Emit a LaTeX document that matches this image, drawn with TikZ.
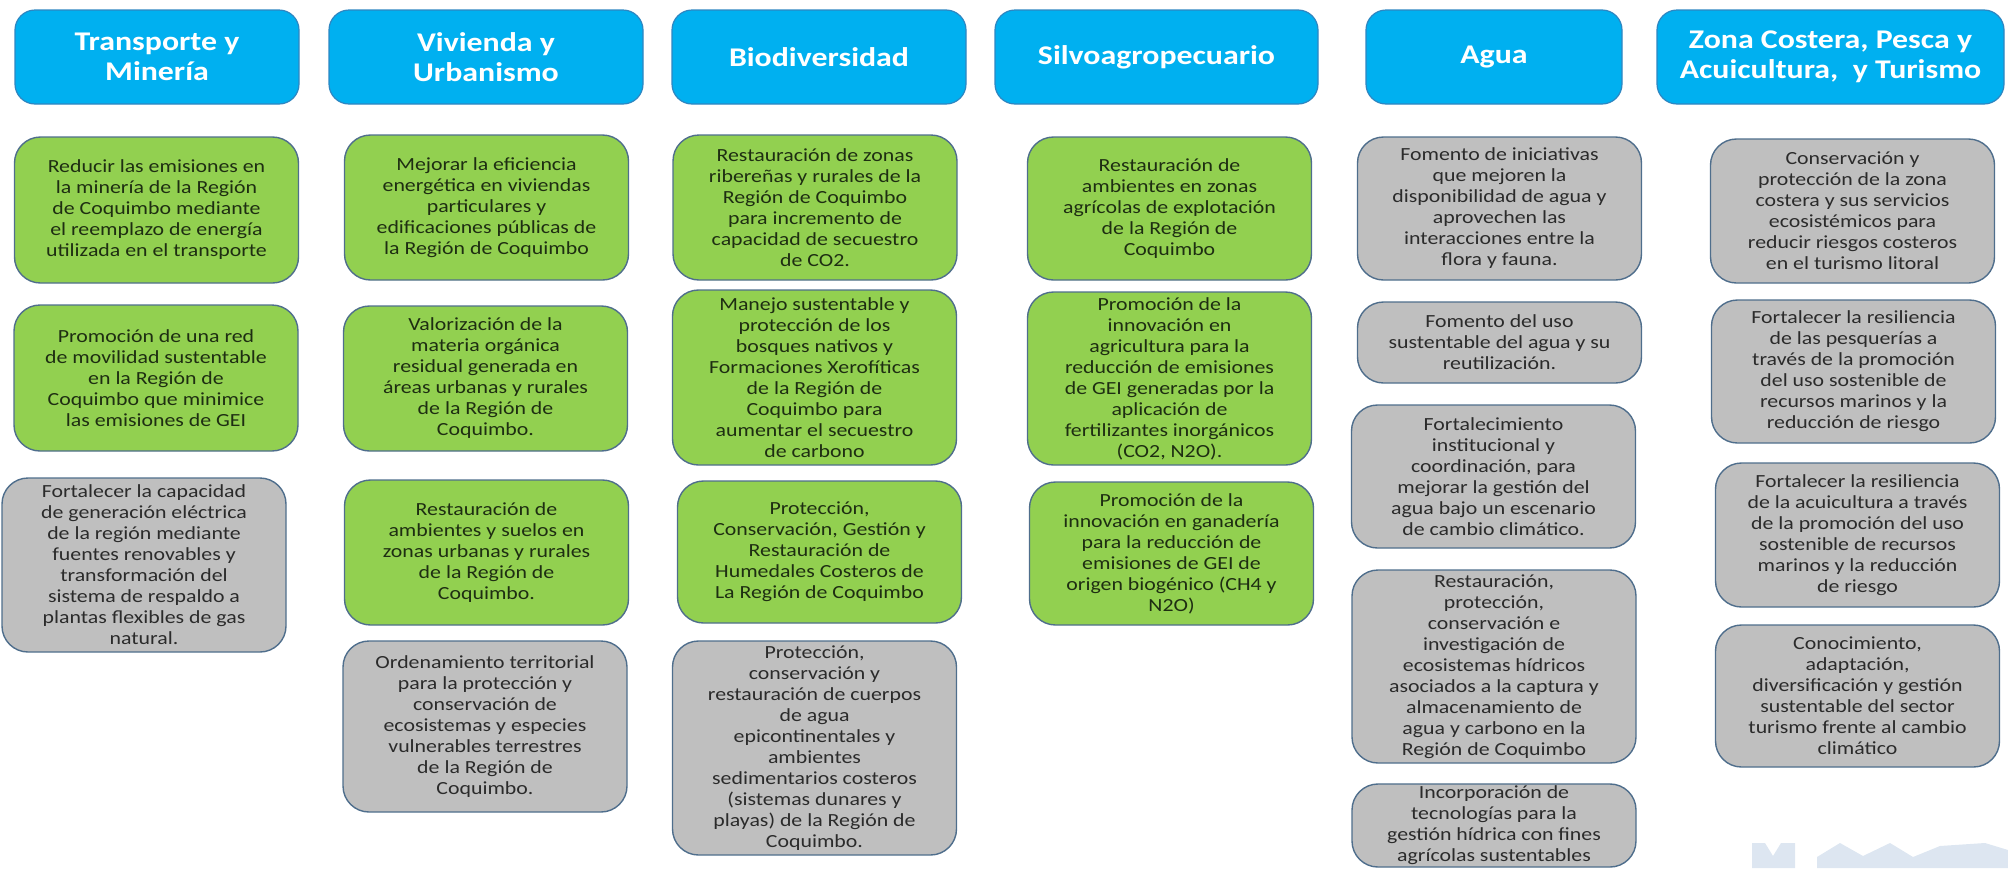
\documentclass[tikz,border=0pt]{standalone}
\usepackage{fontspec}
\setmainfont{Carlito}[FakeStretch=1.18]
\begin{document}
\begin{tikzpicture}[x=1pt,y=-1pt,
  hdr/.style={draw=hdrline,fill=hdrblue,line width=1.2pt,rounded corners=20pt,
    text=white,align=center,inner sep=2pt,font=\fontsize{27}{30}\selectfont\bfseries,
    minimum height=94pt},
  verde/.style={draw=boxline,fill=boxgreen,line width=1.4pt,rounded corners=26pt,
    text=greentext,align=center,inner sep=2pt,font=\fontsize{18.5}{21}\selectfont,
    minimum width=284pt},
  gris/.style={verde,fill=boxgray,text=graytext}]
\definecolor{hdrblue}{HTML}{00B0F0}
\definecolor{hdrline}{HTML}{2E86C1}
\definecolor{boxgreen}{HTML}{92D050}
\definecolor{boxgray}{HTML}{BFBFBF}
\definecolor{boxline}{HTML}{4F6E8C}
\definecolor{greentext}{HTML}{1E2E12}
\definecolor{graytext}{HTML}{2B2B2B}
\definecolor{wmark}{HTML}{DDE6F1}
\useasboundingbox (0,0) rectangle (2008,868);
% watermark, bottom right
\fill[wmark] (1752,868)--(1752,843)--(1765,843)--(1773,856)--(1781,843)--(1795,843)--(1795,868)--cycle;
\fill[wmark] (1817,868)--(1817,857)--(1840,843)--(1863,856)--(1890,843)--(1913,857)--(1940,846)--(1985,843)--(2008,850)--(2008,868)--cycle;
% headers
\node[hdr,minimum width=284pt] (hTra) at (157,57) {Transporte y\\Minería};
\node[hdr,minimum width=314pt] (hViv) at (486,57) {Vivienda y\\Urbanismo};
\node[hdr,minimum width=294pt] (hBio) at (819,57) {Biodiversidad};
\node[hdr,minimum width=323pt] (hSil) at (1156.5,57) {Silvoagropecuario};
\node[hdr,minimum width=256pt] (hAgu) at (1494,57) {Agua};
\node[hdr,minimum width=347pt] (hZon) at (1830.5,57) {Zona Costera, Pesca y\\Acuicultura,\ \ y Turismo};
% Transporte y Mineria
\node[verde,minimum height=146pt] (tra1) at (156.5,210) {Reducir las emisiones en\\la minería de la Región\\de Coquimbo mediante\\el reemplazo de energía\\utilizada en el transporte};
\node[verde,minimum height=146pt] (tra2) at (156,378) {Promoción de una red\\de movilidad sustentable\\en la Región de\\Coquimbo que minimice\\las emisiones de GEI};
\node[gris,minimum height=174pt] (tra3) at (144,565) {Fortalecer la capacidad\\de generación eléctrica\\de la región mediante\\fuentes renovables y\\transformación del\\sistema de respaldo a\\plantas flexibles de gas\\natural.};
% Vivienda y Urbanismo
\node[verde,minimum height=145pt] (viv1) at (486.5,207.5) {Mejorar la eficiencia\\energética en viviendas\\particulares y\\edificaciones públicas de\\la Región de Coquimbo};
\node[verde,minimum height=145pt] (viv2) at (485.5,378.5) {Valorización de la\\materia orgánica\\residual generada en\\áreas urbanas y rurales\\de la Región de\\Coquimbo.};
\node[verde,minimum height=145pt] (viv3) at (486.5,552.5) {Restauración de\\ambientes y suelos en\\zonas urbanas y rurales\\de la Región de\\Coquimbo.};
\node[gris,minimum height=171pt] (viv4) at (485,726.5) {Ordenamiento territorial\\para la protección y\\conservación de\\ecosistemas y especies\\vulnerables terrestres\\de la Región de\\Coquimbo.};
% Biodiversidad
\node[verde,minimum height=145pt] (bio1) at (815,207.5) {Restauración de zonas\\ribereñas y rurales de la\\Región de Coquimbo\\para incremento de\\capacidad de secuestro\\de CO2.};
\node[verde,minimum height=175pt] (bio2) at (814.5,377.5) {Manejo sustentable y\\protección de los\\bosques nativos y\\Formaciones Xerofíticas\\de la Región de\\Coquimbo para\\aumentar el secuestro\\de carbono};
\node[verde,minimum height=142pt] (bio3) at (819.5,552) {Protección,\\Conservación, Gestión y\\Restauración de\\Humedales Costeros de\\La Región de Coquimbo};
\node[gris,minimum height=214pt] (bio4) at (814.5,748) {Protección,\\conservación y\\restauración de cuerpos\\de agua\\epicontinentales y\\ambientes\\sedimentarios costeros\\(sistemas dunares y\\playas) de la Región de\\Coquimbo.};
% Silvoagropecuario
\node[verde,minimum height=143pt] (sil1) at (1169.5,208.5) {Restauración de\\ambientes en zonas\\agrícolas de explotación\\de la Región de\\Coquimbo};
\node[verde,minimum height=173pt] (sil2) at (1169.5,378.5) {Promoción de la\\innovación en\\agricultura para la\\reducción de emisiones\\de GEI generadas por la\\aplicación de\\fertilizantes inorgánicos\\(CO2, N2O).};
\node[verde,minimum height=143pt] (sil3) at (1171.5,553.5) {Promoción de la\\innovación en ganadería\\para la reducción de\\emisiones de GEI de\\origen biogénico (CH4 y\\N2O)};
% Agua
\node[gris,minimum height=143pt] (agu1) at (1499.5,208.5) {Fomento de iniciativas\\que mejoren la\\disponibilidad de agua y\\aprovechen las\\interacciones entre la\\flora y fauna.};
\node[gris,minimum height=81pt] (agu2) at (1499.5,342.5) {Fomento del uso\\sustentable del agua y su\\reutilización.};
\node[gris,minimum height=143pt] (agu3) at (1493.5,476.5) {Fortalecimiento\\institucional y\\coordinación, para\\mejorar la gestión del\\agua bajo un escenario\\de cambio climático.};
\node[gris,minimum height=193pt] (agu4) at (1494,666.5) {Restauración,\\protección,\\conservación e\\investigación de\\ecosistemas hídricos\\asociados a la captura y\\almacenamiento de\\agua y carbono en la\\Región de Coquimbo};
\node[gris,minimum height=81pt] (agu5) at (1494,825.5) {Incorporación de\\tecnologías para la\\gestión hídrica con fines\\agrícolas sustentables};
% Zona Costera, Pesca y Acuicultura, y Turismo
\node[gris,minimum height=144pt] (zon1) at (1852.5,211) {Conservación y\\protección de la zona\\costera y sus servicios\\ecosistémicos para\\reducir riesgos costeros\\en el turismo litoral};
\node[gris,minimum height=143pt] (zon2) at (1853.5,371.5) {Fortalecer la resiliencia\\de las pesquerías a\\través de la promoción\\del uso sostenible de\\recursos marinos y la\\reducción de riesgo};
\node[gris,minimum height=144pt] (zon3) at (1857.5,535) {Fortalecer la resiliencia\\de la acuicultura a través\\de la promoción del uso\\sostenible de recursos\\marinos y la reducción\\de riesgo};
\node[gris,minimum height=142pt] (zon4) at (1857.5,696) {Conocimiento,\\adaptación,\\diversificación y gestión\\sustentable del sector\\turismo frente al cambio\\climático};
\end{tikzpicture}
\end{document}
